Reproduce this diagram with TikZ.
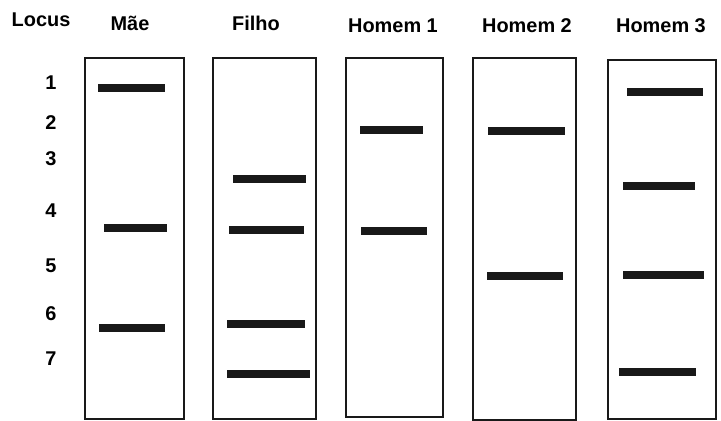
\documentclass[tikz,border=0pt]{standalone}
\usepackage{fontspec}
\setmainfont{Liberation Sans}
\usetikzlibrary{positioning}

\begin{document}
\begin{tikzpicture}[x=0.03cm,y=-0.03cm,
		% Style definitions
		lane/.style={
			rectangle,
			draw=black!90,
			line width=2.4pt,
			inner sep=0pt
		},
		band/.style={
			line width=6pt,
			black!90
		},
		title/.style={
			font=\fontsize{17}{19}\selectfont\bfseries,
			anchor=base
		},
		locus/.style={
			font=\fontsize{17}{19}\selectfont\bfseries
		}
		]
		\useasboundingbox (0,0) rectangle (721,421);
		
		% Gel lanes
		\node[lane, minimum width=2.97cm, minimum height=10.83cm] (mae) at (134.5,238.5) {};
		\node[lane, minimum width=3.09cm, minimum height=10.83cm] (filho) at (264.5,238.5) {};
		\node[lane, minimum width=2.91cm, minimum height=10.77cm] (homem1) at (394.5,237.5) {};
		\node[lane, minimum width=3.09cm, minimum height=10.86cm] (homem2) at (524.5,239) {};
		\node[lane, minimum width=3.24cm, minimum height=10.77cm] (homem3) at (662,239.5) {};
		
		% Column titles
		\node[title] (tlocus) at (41,26) {Locus};
		\node[title] (tmae) at (130,31) {Mãe};
		\node[title] (tfilho) at (256,31) {Filho};
		\node[title] (th1) at (393,32) {Homem 1};
		\node[title] (th2) at (527,32) {Homem 2};
		\node[title] (th3) at (661,32) {Homem 3};
		
		% Locus numbers
		\foreach \n/\yy in {1/83,2/123,3/159,4/211,5/266,6/314,7/359}
			\node[locus] (l\n) at (51,\yy) {\n};
		
		% Bands
		\foreach \xa/\xb/\yy in {98/165/88, 104/167/228, 99/165/328,
				233/306/179, 229/304/230, 227/305/324, 227/310/374,
				360/423/130, 361/427/231,
				488/565/131, 487/563/276,
				627/703/92, 623/695/186, 623/704/275, 619/696/372}
			\draw[band] (\xa,\yy) -- (\xb,\yy);
		
	\end{tikzpicture}
\end{document}
